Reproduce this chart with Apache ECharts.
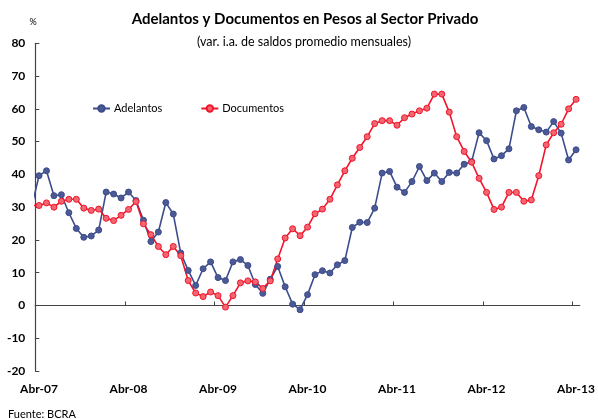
<!DOCTYPE html>
<html>
<head>
<meta charset="utf-8">
<script src="https://cdn.jsdelivr.net/npm/echarts@6/dist/echarts.min.js"></script>
<style>
html,body{margin:0;padding:0;background:#fff;}
#chart{width:598px;height:419px;}
</style>
</head>
<body>
<div id="chart"></div>
<script>
// Month index: 0 = Abr-07 ... 72 = Abr-13; -1 = Mar-07 (clipped at the axis)
var monthStart = -1;
var tickLabels = ["Abr-07","Abr-08","Abr-09","Abr-10","Abr-11","Abr-12","Abr-13"];
var adelantos = [30.0,
  39.6,41.1,33.5,33.8,28.3,23.5,20.8,21.2,23.0,34.6,34.0,32.8,
  34.6,32.0,26.0,19.5,22.4,31.4,27.9,16.0,10.7,6.1,11.2,13.3,
  8.5,7.6,13.3,14.0,12.2,6.4,3.7,8.0,11.9,5.7,0.4,-1.3,
  3.3,9.4,10.6,9.9,12.4,13.7,23.8,25.4,25.3,29.7,40.4,40.9,
  36.1,34.5,37.8,42.4,38.1,40.4,37.8,40.6,40.4,43.1,43.9,52.7,
  50.3,44.7,45.7,47.8,59.4,60.4,54.6,53.6,52.9,56.1,52.6,44.4,
  47.5];
var documentos = [30.5,
  30.5,31.3,30.0,31.8,32.4,32.4,29.7,29.0,29.4,26.6,25.9,27.5,
  29.3,31.7,24.9,21.6,18.0,15.5,18.0,15.2,7.6,3.8,2.7,4.1,
  3.0,-0.5,3.0,6.9,7.5,7.2,5.2,7.5,14.2,20.6,23.4,21.3,
  23.9,28.0,29.4,32.4,36.8,41.1,44.9,48.2,51.5,55.5,56.4,56.4,
  55.0,57.3,58.4,59.4,60.2,64.5,64.5,59.0,51.5,47.0,43.7,38.8,
  34.5,29.3,30.0,34.5,34.5,31.8,32.2,39.6,49.0,52.7,55.3,60.0,
  62.9];

function toPairs(arr){ return arr.map(function(v,i){ return [i+monthStart, v]; }); }

var font = 'Lato, "Open Sans", sans-serif';
var chart = echarts.init(document.getElementById('chart'), null, {renderer:'canvas'});
var tickPos = [], labelPos = [];
for (var k=0;k<tickLabels.length;k++){ labelPos.push(k*12); if(k>0) tickPos.push(k*12-0.5); }

chart.setOption({
  animation:false,
  backgroundColor:'#fff',
  grid:{left:35.3, right:15.3, top:43.3, bottom:48, containLabel:false},
  graphic:[
    {type:'text', x:305, y:19, style:{text:'Adelantos y Documentos en Pesos al Sector Privado', font:'bold 15px '+font, fill:'#000', textAlign:'center', textVerticalAlign:'middle'}},
    {type:'text', x:304, y:41.5, style:{text:'(var. i.a. de saldos promedio mensuales)', font:'12.5px '+font, fill:'#000', textAlign:'center', textVerticalAlign:'middle'}},
    {type:'text', x:33, y:22, style:{text:'%', font:'9px '+font, fill:'#000', textAlign:'center', textVerticalAlign:'middle'}},
    {type:'text', x:8, y:409, style:{text:'Fuente: BCRA', font:'11px '+font, fill:'#000', textVerticalAlign:'top'}}
  ],
  legend:{
    left:87, top:98, itemWidth:17, itemHeight:8, itemGap:38,
    textStyle:{fontFamily:font, fontSize:11, color:'#000', padding:[0,0,0,-1]},
    data:['Adelantos','Documentos']
  },
  xAxis:[
    {type:'value', min:-0.5, max:72.5, position:'bottom',
     axisLine:{onZero:true, lineStyle:{color:'#444', width:1.2}},
     axisTick:{show:true, inside:true, length:4, customValues:tickPos, lineStyle:{color:'#444'}},
     axisLabel:{show:false}, splitLine:{show:false}},
    {type:'value', min:-0.5, max:72.5, position:'bottom',
     axisLine:{show:false, onZero:false}, axisTick:{show:false}, splitLine:{show:false},
     axisLabel:{show:true, customValues:labelPos, margin:12,
       fontFamily:font, fontWeight:'bold', fontSize:12, color:'#000',
       formatter:function(v){ return tickLabels[Math.round(v/12)] || ''; }}}
  ],
  yAxis:{type:'value', min:-20, max:80, interval:10,
    axisLine:{show:true, onZero:false, lineStyle:{color:'#444', width:1.2}},
    axisTick:{show:true, inside:true, length:4, lineStyle:{color:'#444'}},
    axisLabel:{fontFamily:font, fontWeight:'bold', fontSize:12, color:'#000', margin:10},
    splitLine:{show:false}},
  series:[
    {name:'Adelantos', type:'line', xAxisIndex:0, data:toPairs(adelantos), clip:true,
     symbol:'circle', symbolSize:6, showAllSymbol:true,
     lineStyle:{color:'#3D4C8A', width:1.6},
     itemStyle:{color:'#4B5A96', borderColor:'#3D4C8A', borderWidth:1}},
    {name:'Documentos', type:'line', xAxisIndex:0, data:toPairs(documentos), clip:true,
     symbol:'circle', symbolSize:6, showAllSymbol:true,
     lineStyle:{color:'#F2142A', width:1.6},
     itemStyle:{color:'#F26672', borderColor:'#F2142A', borderWidth:1}}
  ]
});
</script>
</body>
</html>
